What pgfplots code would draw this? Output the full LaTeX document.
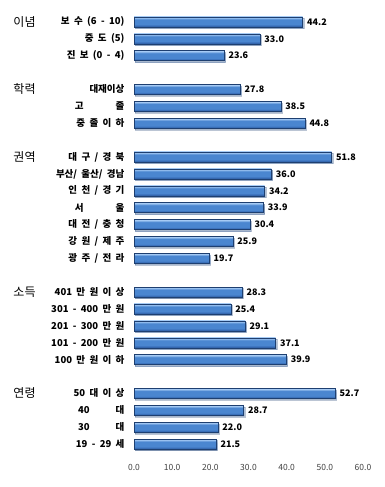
\documentclass[border=0pt]{standalone}
\usepackage{pgfplots}
\pgfplotsset{compat=1.18}
\usepackage{fontspec}
\setmainfont[WordSpace=2]{Noto Sans CJK KR}
\usetikzlibrary{shadows}
\definecolor{barTop}{HTML}{A6CBF5}
\definecolor{barMid}{HTML}{4A86D0}
\definecolor{barBot}{HTML}{2A58A0}
\definecolor{barEdge}{HTML}{1E3F70}
\definecolor{tickgray}{HTML}{404040}
\pgfdeclareverticalshading{barshade}{100bp}{color(0bp)=(barBot); color(25bp)=(barBot); color(38bp)=(barMid); color(62bp)=(barMid); color(72bp)=(barTop); color(100bp)=(barTop)}
\begin{document}
\begin{tikzpicture}
\useasboundingbox (0,0) rectangle (385pt,487pt);
\begin{axis}[
  at={(134pt,26pt)}, anchor=south west,
  scale only axis, width=229pt, height=456pt,
  xmin=0, xmax=60, ymin=-27, ymax=0,
  axis x line=bottom, axis y line=left,
  axis line style={draw=none},
  major tick length=0pt,
  xtick={0,10,20,30,40,50,60},
  /pgf/number format/assume math mode=true,
  xticklabel style={font=\fontsize{8.5}{10}\selectfont, text=tickgray, /pgf/number format/.cd, fixed, fixed zerofill, precision=1},
  ytick={-26,-25,-24,-23,-21,-20,-19,-18,-17,-15,-14,-13,-12,-11,-10,-9,-7,-6,-5,-3,-2,-1},
  yticklabels={
    {19 - 29 세},{30\hspace{26pt}대},{40\hspace{26pt}대},{50 대 이 상},
    {100 만 원 이 하},{101 - 200 만 원},{201 - 300 만 원},{301 - 400 만 원},{401 만 원 이 상},
    {광 주 / 전 라},{강 원 / 제 주},{대 전 / 충 청},{서\hspace{32pt}울},{인 천 / 경 기},{부산/ 울산/ 경남},{대 구 / 경 북},
    {중 졸 이 하},{고\hspace{32pt}졸},{대재이상},
    {진 보 (0 - 4)},{중 도 (5)},{보 수 (6 - 10)}},
  yticklabel style={font=\fontsize{9.5}{11}\selectfont\bfseries, anchor=east, xshift=-6pt},
  clip=false,
  mybar/.style={xbar, bar width=10pt, draw=barEdge, line width=0.4pt, shading=barshade,
    drop shadow={shadow xshift=1.2pt, shadow yshift=-1.5pt, opacity=0.3},
    point meta=x, nodes near coords,
    every node near coord/.append style={font=\fontsize{9}{10}\selectfont\bfseries, anchor=west, xshift=1pt, text=black, /pgf/number format/.cd, fixed, fixed zerofill, precision=1}},
]
\foreach \v/\p in {44.2/-1, 33.0/-2, 23.6/-3,
  27.8/-5, 38.5/-6, 44.8/-7,
  51.8/-9, 36.0/-10, 34.2/-11, 33.9/-12, 30.4/-13, 25.9/-14, 19.7/-15,
  28.3/-17, 25.4/-18, 29.1/-19, 37.1/-20, 39.9/-21,
  52.7/-23, 28.7/-24, 22.0/-25, 21.5/-26}{
  \edef\tmp{\noexpand\addplot[mybar] coordinates {(\v,\p)};}
  \tmp
}
\node[anchor=west, font=\fontsize{12}{14}\selectfont] at (axis cs:-32.5,-1) {이념};
\node[anchor=west, font=\fontsize{12}{14}\selectfont] at (axis cs:-32.5,-5) {학력};
\node[anchor=west, font=\fontsize{12}{14}\selectfont] at (axis cs:-32.5,-9) {권역};
\node[anchor=west, font=\fontsize{12}{14}\selectfont] at (axis cs:-32.5,-17) {소득};
\node[anchor=west, font=\fontsize{12}{14}\selectfont] at (axis cs:-32.5,-23) {연령};
\end{axis}
\end{tikzpicture}
\end{document}
